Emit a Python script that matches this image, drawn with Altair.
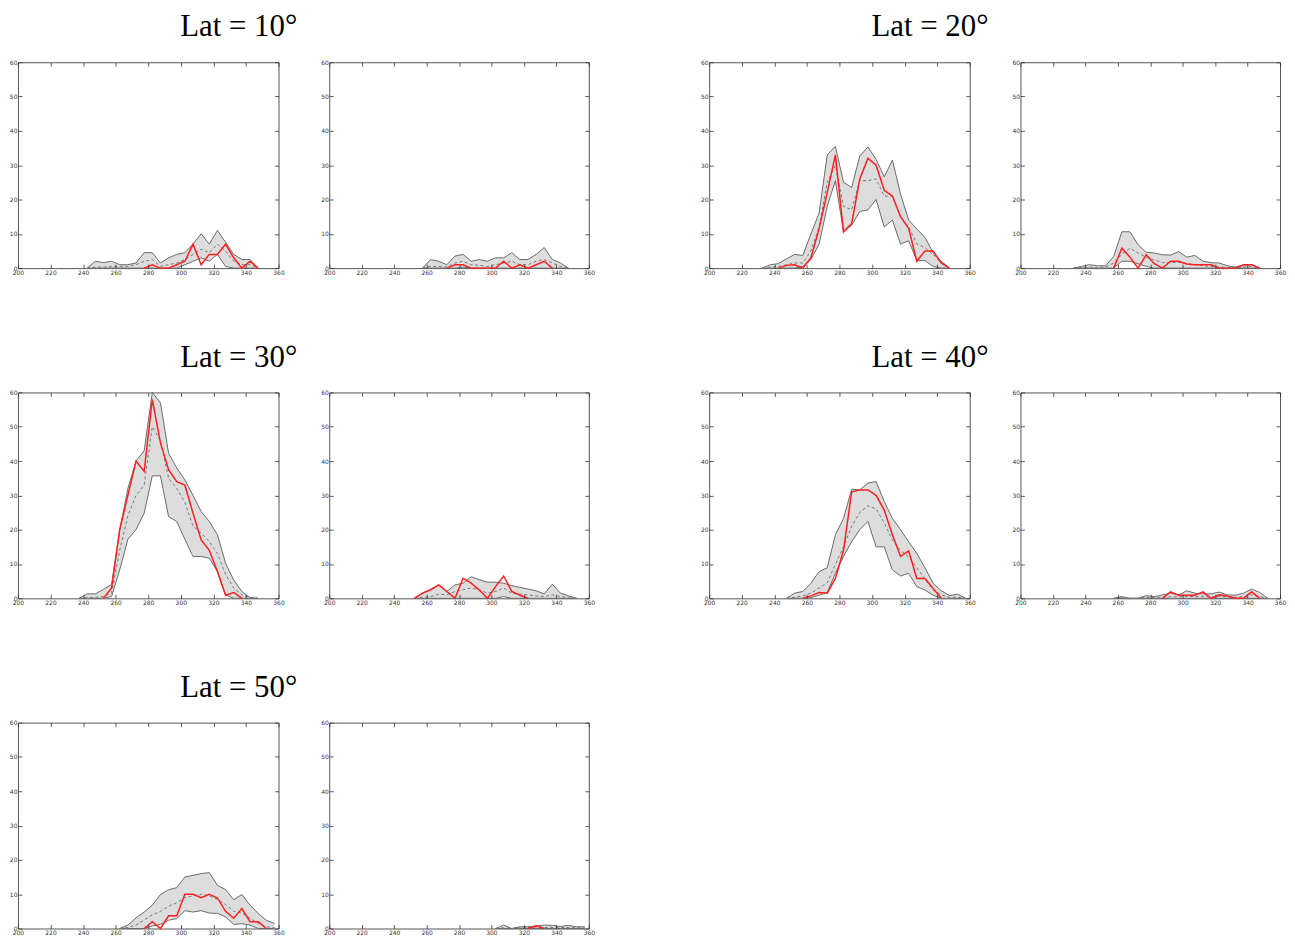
import altair as alt
import pandas as pd

X = [202.5, 207.5, 212.5, 217.5, 222.5, 227.5, 232.5, 237.5, 242.5, 247.5,
     252.5, 257.5, 262.5, 267.5, 272.5, 277.5, 282.5, 287.5, 292.5, 297.5,
     302.5, 307.5, 312.5, 317.5, 322.5, 327.5, 332.5, 337.5, 342.5, 347.5,
     352.5, 357.5]
X_TICKS = [200, 220, 240, 260, 280, 300, 320, 340, 360]
Y_TICKS = [0, 10, 20, 30, 40, 50, 60]
TITLES = ["Lat = 10°", "Lat = 20°", "Lat = 30°", "Lat = 40°", "Lat = 50°"]
_ = None

# ---- Lat 10 ----
LAT10_A_MAX = [_]*8 + [0, 2, 1.6, 2, 1, 1, 1.5, 4.5, 4.5, 1.5, 3, 4, 4.5, 7, 10, 7, 11, 7.5, 4, 2.5, 2.5, 0] + [_]*2
LAT10_A_MIN = [_]*8 + [0, 0, 0, 0, 0, 0, 0, 0, 0, 0, 0, 0, 1, 2, 3, 2, 4, 0.5, 0, 0, 0, 0] + [_]*2
LAT10_A_AVG = [_]*8 + [0, 0.3, 0.3, 0.5, 0.5, 0.5, 1, 2, 2.5, 0.5, 1, 1.5, 2.5, 4, 5.5, 4.5, 7, 5, 2, 1, 1, 0] + [_]*2
LAT10_A_OBS = [_]*15 + [0, 1, 0, 0, 1, 2, 7, 1, 4, 4, 7, 3, 0, 2, 0] + [_]*2

LAT10_B_MAX = [_]*11 + [0, 2.5, 2, 1, 3.5, 4, 2, 2.5, 2, 3, 3, 4.5, 2.5, 2.5, 4, 6, 2.5, 1.5, 0] + [_]*2
LAT10_B_MIN = [_]*11 + [0, 0, 0, 0, 0, 0.3, 0, 0, 0, 0, 0, 0, 0, 0, 0, 0, 0, 0, 0] + [_]*2
LAT10_B_AVG = [_]*11 + [0, 0.5, 0.5, 0.3, 1.5, 2, 1, 0.8, 0.5, 1, 1.5, 2, 1, 1, 2, 2.5, 1.5, 0.5, 0] + [_]*2
LAT10_B_OBS = [_]*14 + [0, 1, 1, 0, 0, 0, 0, 2, 0, 1, 0, 1, 2, 0] + [_]*4

# ---- Lat 20 ----
LAT20_A_MAX = [_]*6 + [0, 1, 1.3, 2.7, 4, 3.7, 10, 16, 33, 35.5, 25, 23.5, 32.7, 35.3, 31.7, 26.6, 31.5, 21.6, 14, 11.4, 9, 4.5, 2, 0] + [_]*2
LAT20_A_MIN = [_]*6 + [0, 0, 0, 0, 0, 0.5, 2.5, 7, 18, 25.5, 10.6, 12.5, 16.5, 17, 20, 12, 14, 7, 8, 2.2, 2.2, 0.5, 0, 0] + [_]*2
LAT20_A_AVG = [_]*6 + [0, 0.3, 0.5, 1, 1.5, 1.5, 5, 12, 25, 30, 18, 17, 25.5, 25.5, 26, 21, 21, 15, 12, 7, 6, 4, 1.5, 0] + [_]*2
LAT20_A_OBS = [_]*8 + [0, 0.8, 1, 0, 3, 11.5, 22, 33, 10.6, 13, 26, 32, 30, 22.7, 21, 15, 11.6, 2, 5, 5, 1.5, 0] + [_]*2

LAT20_B_MAX = [_]*6 + [0, 0.5, 1, 0.7, 0.7, 3.4, 10.6, 10.6, 6.8, 4.6, 4.4, 3.9, 3.8, 4.8, 3.2, 3.7, 2, 1.6, 1.5, 0.7, 0.3, 0.9, 1, 0] + [_]*2
LAT20_B_MIN = [_]*6 + [0, 0, 0, 0, 0, 0, 2, 2, 1.3, 0.5, 0, 0, 0, 0, 0, 0, 0, 0, 0, 0, 0, 0, 0, 0] + [_]*2
LAT20_B_AVG = [_]*6 + [0, 0.2, 0.3, 0.2, 0.3, 1.5, 4, 5.8, 4.4, 3.2, 2.4, 1.6, 1.6, 1.7, 1.3, 1, 0.7, 0.5, 0.3, 0.2, 0.1, 0.3, 0.5, 0] + [_]*2
LAT20_B_OBS = [_]*11 + [0, 5.8, 3.2, 0, 3.9, 1.3, 0, 2, 2, 1.2, 1, 1, 1, 0, 0, 0, 1, 1, 0] + [_]*2

# ---- Lat 30 ----
LAT30_A_MAX = [_]*7 + [0, 1.3, 1.3, 2.6, 4, 20, 32, 40, 43, 60, 57, 42.3, 38, 34.5, 30, 25.3, 22.4, 18.5, 10.2, 5.3, 2, 0.2, 0] + [_]*2
LAT30_A_MIN = [_]*7 + [0, 0, 0, 0, 0.5, 8.3, 17.2, 20, 24.8, 35.7, 35.7, 23.8, 22.4, 17.2, 12.2, 12.2, 11.7, 7.8, 1, 0, 0, 0, 0] + [_]*2
LAT30_A_AVG = [_]*7 + [0, 0.2, 0.3, 0.5, 1.5, 14, 24, 30, 33, 50, 46, 35, 32, 28, 21, 19, 16.5, 13, 7, 3, 1, 0.2, 0] + [_]*2
LAT30_A_OBS = [_]*10 + [0, 3, 20, 30, 40, 37, 58, 45.3, 37.5, 34, 33, 24.8, 17, 14, 7.8, 0.9, 1.7, 0] + [_]*4

LAT30_B_MAX = [_]*10 + [0, 1.5, 2.6, 3.9, 2, 3.9, 4.4, 6.3, 5.4, 4.7, 4.7, 4.4, 3.7, 3.2, 2.7, 2.2, 1.3, 4.1, 1.5, 0.7, 0] + [_]*1
LAT30_B_MIN = [_]*10 + [0, 0, 0, 0, 0, 0, 0, 0, 0, 0, 0, 0.5, 0, 0, 0, 0, 0, 0, 0, 0, 0] + [_]*1
LAT30_B_AVG = [_]*10 + [0, 0.3, 0.5, 1.2, 1, 2, 2.5, 3, 2.5, 1.5, 2, 3, 1.5, 1.2, 1, 0.7, 0.5, 1, 0.5, 0.2, 0] + [_]*1
LAT30_B_OBS = [_]*10 + [0, 1.5, 2.5, 3.9, 2, 0, 5.8, 4.4, 2.4, 0, 3.4, 6.5, 2, 0.9, 0] + [_]*7

# ---- Lat 40 ----
LAT40_A_MAX = [_]*9 + [0, 1.5, 2, 4.4, 7.8, 8.9, 18.5, 23.3, 31.8, 31.6, 33.6, 34, 28.2, 23.3, 20, 16.5, 13.1, 8.9, 4.4, 2.2, 0.8, 1.2, 0]
LAT40_A_MIN = [_]*9 + [0, 0, 0, 0.2, 0.9, 1.7, 7.3, 12.2, 16.5, 20, 22.4, 15, 15, 8.3, 6.5, 7.3, 3.4, 2.4, 0.9, 0, 0, 0, 0]
LAT40_A_AVG = [_]*9 + [0, 0.3, 0.7, 1.5, 3, 4.5, 10, 15, 21, 25, 27, 26, 22, 17, 14, 12, 9, 5.5, 2.5, 1, 0.3, 0.3, 0]
LAT40_A_OBS = [_]*11 + [0, 0.7, 1.7, 1.5, 5.8, 14, 31, 31.6, 31.6, 30, 25.7, 18.5, 12.2, 13.8, 5.8, 5.8, 2.9, 0] + [_]*3

LAT40_B_MAX = [_]*11 + [0, 0.5, 0, 0, 0.8, 0.5, 1, 1.5, 1, 2.2, 1.5, 1.3, 1.3, 1.8, 1, 0.9, 1.5, 2.7, 1.7, 0] + [_]*1
LAT40_B_MIN = [_]*11 + [0, 0, 0, 0, 0, 0, 0, 0, 0, 0, 0, 0, 0, 0, 0, 0, 0, 0, 0, 0] + [_]*1
LAT40_B_AVG = [_]*11 + [0, 0.2, 0, 0, 0.3, 0.2, 0.3, 0.5, 0.4, 0.6, 0.5, 0.6, 0.4, 0.6, 0.4, 0.3, 0.5, 1, 0.5, 0] + [_]*1
LAT40_B_OBS = [_]*17 + [0, 1.9, 0.9, 0.9, 0.9, 1.9, 0, 1, 0.7, 0, 0, 1.9, 0] + [_]*2

# ---- Lat 50 ----
LAT50_A_MAX = [_]*12 + [0, 1, 3.1, 4.8, 6.8, 9.9, 11.3, 11.9, 15, 15.5, 16, 16.3, 12.6, 11.3, 8.4, 9.9, 6.8, 4.4, 2.4, 1.5]
LAT50_A_MIN = [_]*12 + [0, 0, 0, 0, 0.7, 1.2, 2.4, 2.9, 5.2, 4.8, 5.2, 4.5, 4.4, 3.4, 1.2, 1.4, 1, 0, 0, 0]
LAT50_A_AVG = [_]*12 + [0, 0.3, 1, 2.5, 4, 5, 6.5, 7.5, 9, 9.5, 10, 9.5, 8.5, 7, 5, 4.5, 3, 1.5, 0.5, 0.3]
LAT50_A_OBS = [_]*15 + [0, 2, 0, 3.7, 3.7, 10, 10, 9, 10, 8.9, 5, 3, 5.8, 2, 2, 0] + [_]*1

LAT50_B_MAX = [_]*20 + [0, 1, 0, 0.5, 0.5, 0.7, 1, 0.9, 0.6, 0.9, 0.5, 0.5]
LAT50_B_MIN = [_]*20 + [0, 0, 0, 0, 0, 0, 0, 0, 0, 0, 0, 0]
LAT50_B_AVG = [_]*20 + [0, 0.2, 0, 0.2, 0.3, 0.4, 0.3, 0.3, 0.3, 0.3, 0.2, 0.2]
LAT50_B_OBS = [_]*24 + [0, 0.8, 0] + [_]*5

W_LEFT, W_RIGHT, H = 262, 261, 207
INK = "#333333"


def axis(orient, values, labels):
    return alt.Axis(orient=orient, values=values, labels=labels, format="d", title=None,
                    grid=False, domain=False, ticks=True, tickSize=4, offset=-4,
                    tickColor=INK, tickWidth=0.8, labelFont="DejaVu Sans", labelFontSize=6,
                    labelColor=INK, labelPadding=1, labelOverlap=False, labelFlush=False,
                    zindex=1)


def panel(hi, lo, avg, obs, width, title=None):
    df = pd.DataFrame({"x": X, "hi": hi, "lo": lo, "avg": avg, "obs": obs})
    xs = alt.Scale(domain=[200, 360], nice=False, zero=False)
    ys = alt.Scale(domain=[0, 60], nice=False)
    base = alt.Chart(df)

    band = base.transform_filter("isValid(datum.hi)").mark_area(
        color="#dddddd", opacity=1).encode(
        x=alt.X("x:Q", scale=xs, axis=axis("bottom", X_TICKS, True)),
        y=alt.Y("hi:Q", scale=ys, axis=axis("left", Y_TICKS, True)),
        y2="lo:Q")

    def line(field, color, sw, dash=None):
        kw = {"color": color, "strokeWidth": sw}
        if dash:
            kw["strokeDash"] = dash
        return base.transform_filter(f"isValid(datum.{field})").mark_line(**kw).encode(
            x=alt.X("x:Q", scale=xs, axis=None),
            y=alt.Y(f"{field}:Q", scale=ys, axis=None),
            order="x:Q")

    frame_ticks = base.transform_filter("isValid(datum.hi)").mark_point(opacity=0).encode(
        x=alt.X("x:Q", scale=xs, axis=axis("top", X_TICKS, False)),
        y=alt.Y("hi:Q", scale=ys, axis=axis("right", Y_TICKS, False)))

    ch = alt.layer(
        band,
        line("hi", "#6a6a6a", 1),
        line("lo", "#6a6a6a", 1),
        line("avg", "#777777", 1, [3, 2.5]),
        line("obs", "#ff1f1f", 1.5),
        frame_ticks,
    ).resolve_axis(x="independent", y="independent").properties(width=width, height=H)
    if title:
        ch = ch.properties(title=alt.Title(
            title, font="Liberation Serif", fontSize=31, fontWeight="normal", color="#000000",
            anchor="middle", frame="group", dx=91, offset=-8, baseline="alphabetic"))
    return ch


spacer = alt.Chart(pd.DataFrame({"v": [0]})).mark_point(opacity=0).encode(
    x=alt.value(0), y=alt.value(0)).properties(
    width=19, height=H, view=alt.ViewBackground(stroke="transparent"))

cells = [
    panel(LAT10_A_MAX, LAT10_A_MIN, LAT10_A_AVG, LAT10_A_OBS, W_LEFT, TITLES[0]),
    panel(LAT10_B_MAX, LAT10_B_MIN, LAT10_B_AVG, LAT10_B_OBS, W_RIGHT),
    spacer,
    panel(LAT20_A_MAX, LAT20_A_MIN, LAT20_A_AVG, LAT20_A_OBS, W_LEFT, TITLES[1]),
    panel(LAT20_B_MAX, LAT20_B_MIN, LAT20_B_AVG, LAT20_B_OBS, W_RIGHT),
    panel(LAT30_A_MAX, LAT30_A_MIN, LAT30_A_AVG, LAT30_A_OBS, W_LEFT, TITLES[2]),
    panel(LAT30_B_MAX, LAT30_B_MIN, LAT30_B_AVG, LAT30_B_OBS, W_RIGHT),
    spacer,
    panel(LAT40_A_MAX, LAT40_A_MIN, LAT40_A_AVG, LAT40_A_OBS, W_LEFT, TITLES[3]),
    panel(LAT40_B_MAX, LAT40_B_MIN, LAT40_B_AVG, LAT40_B_OBS, W_RIGHT),
    panel(LAT50_A_MAX, LAT50_A_MIN, LAT50_A_AVG, LAT50_A_OBS, W_LEFT, TITLES[4]),
    panel(LAT50_B_MAX, LAT50_B_MIN, LAT50_B_AVG, LAT50_B_OBS, W_RIGHT),
]

chart = alt.concat(
    *cells, columns=5, spacing={"row": 125, "column": 51}, bounds="flush", align="each",
    padding=0, background="white",
).configure_view(stroke="#555555", strokeWidth=1)

chart.save("out.html", embed_options={"renderer": "svg", "actions": False})
